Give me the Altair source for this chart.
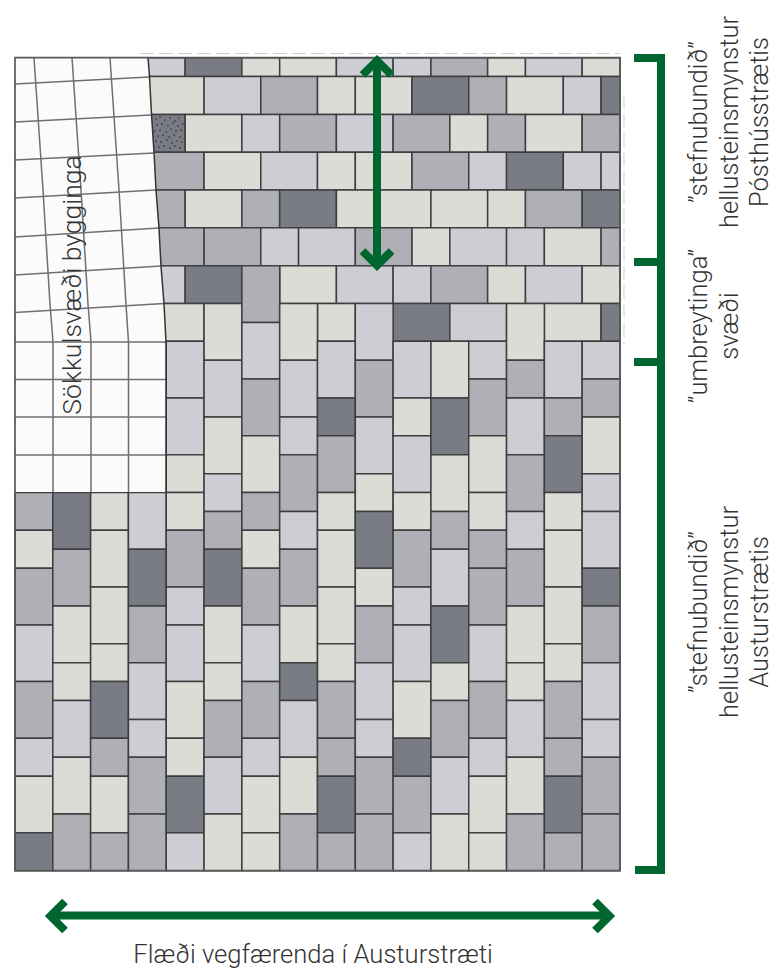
import altair as alt
import pandas as pd

# colour keys of the paving stones
B, C, M, D = "beige", "light", "mid", "dark"
stone_colors = {B: "#DCDBD6", C: "#CDCED3", M: "#AFB0B5", D: "#7A7C85"}

# horizontal courses: (y0, y1, [(x0, x1, colour), ...]) in half-stone modules
courses = [
    (0, 1, [(7, 9, C), (9, 12, D), (12, 14, B), (14, 17, B), (17, 20, C), (20, 22, C), (22, 25, M), (25, 27, B), (27, 30, C), (30, 32, B)]),
    (1, 3, [(7, 10, B), (10, 13, C), (13, 16, M), (16, 18, B), (18, 21, B), (21, 24, D), (24, 26, M), (26, 29, B), (29, 31, C), (31, 32, D)]),
    (3, 5, [(7, 9, D), (9, 12, B), (12, 14, C), (14, 17, M), (17, 20, C), (20, 23, M), (23, 25, B), (25, 27, M), (27, 30, B), (30, 32, M)]),
    (5, 7, [(7, 10, M), (10, 13, B), (13, 16, C), (16, 18, B), (18, 21, B), (21, 24, M), (24, 26, C), (26, 29, D), (29, 31, C), (31, 32, C)]),
    (7, 9, [(7, 9, M), (9, 12, B), (12, 14, M), (14, 17, D), (17, 22, B), (22, 25, B), (25, 27, B), (27, 30, M), (30, 32, D)]),
    (9, 11, [(7, 10, M), (10, 13, M), (13, 15, C), (15, 18, C), (18, 21, M), (21, 23, B), (23, 26, C), (26, 28, C), (28, 31, B), (31, 32, M)]),
    (11, 13, [(7, 9, C), (9, 12, D), (14, 17, B), (17, 20, C), (20, 22, C), (22, 25, M), (25, 27, B), (27, 30, C), (30, 32, B)]),
    (13, 15, [(7, 10, B), (16, 18, B), (20, 23, D), (23, 26, C), (28, 31, B), (31, 32, D)]),
]

# vertical columns: x start -> list of (y0, y1, colour); each column is 2 modules wide
columns = {
    0: [(23, 25, M), (25, 27, B), (27, 30, M), (30, 33, C), (33, 36, M), (36, 38, C), (38, 41, B), (41, 43, D)],
    2: [(23, 26, D), (26, 29, M), (29, 32, B), (32, 34, B), (34, 37, C), (37, 40, B), (40, 43, M)],
    4: [(23, 25, B), (25, 28, B), (28, 31, B), (31, 33, B), (33, 36, D), (36, 38, M), (38, 41, B), (41, 43, M)],
    6: [(23, 26, C), (26, 29, D), (29, 32, M), (32, 35, C), (35, 37, C), (37, 40, M), (40, 43, M)],
    8: [(15, 18, C), (18, 21, C), (21, 23, B), (23, 25, B), (25, 28, M), (28, 30, C), (30, 33, C), (33, 36, B), (36, 38, B), (38, 41, D), (41, 43, C)],
    10: [(13, 16, B), (16, 19, C), (19, 22, B), (22, 24, C), (24, 26, M), (26, 29, D), (29, 32, B), (32, 34, B), (34, 37, M), (37, 40, C), (40, 43, B)],
    12: [(11, 14, M), (14, 17, C), (17, 20, M), (20, 23, B), (23, 25, M), (25, 27, B), (27, 30, M), (30, 33, C), (33, 36, M), (36, 38, C), (38, 41, B), (41, 43, B)],
    14: [(13, 16, B), (16, 19, C), (19, 21, C), (21, 24, M), (24, 26, C), (26, 29, M), (29, 32, B), (32, 34, D), (34, 37, C), (37, 40, B), (40, 43, M)],
    16: [(15, 18, C), (18, 20, D), (20, 23, M), (23, 25, B), (25, 28, B), (28, 31, B), (31, 33, B), (33, 36, M), (36, 38, M), (38, 41, D), (41, 43, M)],
    18: [(13, 16, C), (16, 19, M), (19, 22, C), (22, 24, B), (24, 27, D), (27, 29, B), (29, 32, M), (32, 35, C), (35, 37, C), (37, 40, M), (40, 43, M)],
    20: [(15, 18, C), (18, 20, B), (20, 23, C), (23, 25, B), (25, 28, M), (28, 30, C), (30, 33, C), (33, 36, B), (36, 38, D), (38, 41, M), (41, 43, C)],
    22: [(15, 18, B), (18, 21, D), (21, 24, B), (24, 26, M), (26, 29, C), (29, 32, D), (32, 34, B), (34, 37, M), (37, 40, C), (40, 43, B)],
    24: [(15, 17, C), (17, 20, M), (20, 23, B), (23, 25, B), (25, 27, M), (27, 30, M), (30, 33, C), (33, 36, M), (36, 38, C), (38, 41, B), (41, 43, B)],
    26: [(13, 16, B), (16, 18, M), (18, 21, C), (21, 24, M), (24, 26, C), (26, 29, M), (29, 32, B), (32, 34, B), (34, 37, C), (37, 40, B), (40, 43, M)],
    28: [(15, 18, C), (18, 20, M), (20, 23, D), (23, 25, B), (25, 28, B), (28, 31, B), (31, 33, B), (33, 36, M), (36, 38, M), (38, 41, D), (41, 43, M)],
    30: [(15, 17, C), (17, 19, M), (19, 22, B), (22, 24, C), (24, 27, C), (27, 29, D), (29, 32, M), (32, 35, C), (35, 37, C), (37, 40, M), (40, 43, M)],
}

# sloping edge of the building footprint: y (px) -> x (px)
edge_y = [57.7, 76.6, 114.4, 152.2, 190, 228, 266, 304, 342, 492]
edge_x = [148, 149.5, 151.5, 154, 156, 159, 161, 164, 166, 166]

# footprint grid lines, pixel endpoints
grid_vertical = [
    [(34, 57.7), (43, 190), (50, 304), (53, 342), (53, 492)],
    [(72, 57.7), (81, 190), (88, 304), (91, 342), (91, 492)],
    [(110, 57.7), (119, 190), (126, 304), (128.5, 342), (128.5, 492)],
]
grid_horizontal = [
    [(15, 84), (149.5, 77)], [(15, 122), (151.5, 115)], [(15, 160), (154, 153)],
    [(15, 198), (156, 190)], [(15, 237), (159, 228)], [(15, 275), (161, 266)],
    [(15, 312.5), (164, 303.5)], [(15, 342), (166, 342)], [(15, 379.5), (166, 379.5)],
    [(15, 417), (166, 417)], [(15, 455), (166, 455)],
]

# faint scan traces just outside the frame (px)
trace_paths = [
    [(140, 53.5), (620, 53.5)],
    [(624, 95), (624, 345)],
]

# specks on the speckled stone (px)
speck_x = [156, 160, 165, 170, 175, 179, 157, 162, 168, 173, 178, 183, 155, 160, 166, 171, 176, 181,
           158, 163, 169, 174, 180, 156, 161, 167, 172, 177, 182, 159, 164, 170, 175, 180]
speck_y = [119, 117, 120, 118, 121, 118, 125, 124, 126, 123, 126, 124, 131, 130, 132, 129, 131, 130,
           136, 135, 137, 135, 137, 141, 142, 140, 143, 141, 142, 147, 146, 148, 146, 148]

# green annotation strokes (px)
green_paths = [
    [(377, 60), (377, 266)],
    [(362.5, 75), (377, 60.6), (391.5, 75)],
    [(362.5, 251), (377, 265.4), (391.5, 251)],
    [(50.5, 915.5), (609.5, 915.5)],
    [(65, 901.5), (50.5, 916), (65, 930.5)],
    [(595, 901.5), (609.5, 916), (595, 930.5)],
    [(634, 58), (661, 58), (661, 870), (635, 870)],
    [(634, 262), (661, 262)],
    [(634, 362), (661, 362)],
]

# text labels: (text, x px, y px, size, angle)
labels = [
    ("Flæði vegfærenda í Austurstræti", 313, 955, 25.6, 0),
    ("Sökkulsvæði bygginga", 73, 285, 26.5, 270),
    ("”stefnubundið”", 699, 122, 25.5, 270),
    ("hellusteinsmynstur", 730, 122, 25.5, 270),
    ("Pósthússtrætis", 760, 122, 25.5, 270),
    ("”umbreytinga”", 699, 326, 25.5, 270),
    ("svæði", 730, 326, 25.5, 270),
    ("”stefnubundið”", 699, 612, 25.5, 270),
    ("hellusteinsmynstur", 730, 612, 25.5, 270),
    ("Austurstrætis", 760, 612, 25.5, 270),
]

X0, Y0, U = 15.0, 57.7, 18.906


def ux(p):
    return (p - X0) / U


def uy(p):
    return (p - Y0) / U


rows = []
for y0, y1, stones in courses:
    rows += [dict(x0=a, x1=b, y0=y0, y1=y1, c=c) for a, b, c in stones]
for x, stones in columns.items():
    rows += [dict(x0=x, x1=x + 2, y0=a, y1=b, c=c) for a, b, c in stones]
stones_df = pd.DataFrame(rows)

xs = alt.Scale(domain=[ux(8), ux(774)], range=[0, 766], nice=False, zero=False)
ys = alt.Scale(domain=[uy(8), uy(970)], range=[0, 962], nice=False, zero=False)
X = lambda f, **k: alt.X(f, type="quantitative", scale=xs, axis=None, **k)
Y = lambda f, **k: alt.Y(f, type="quantitative", scale=ys, axis=None, **k)

stones_layer = alt.Chart(stones_df).mark_rect(stroke="#3E3E40", strokeWidth=1.5).encode(
    x=X("x0"), x2="x1", y=Y("y0"), y2="y1",
    color=alt.Color("c:N", legend=None,
                    scale=alt.Scale(domain=list(stone_colors), range=list(stone_colors.values()))),
)

specks = alt.Chart(pd.DataFrame({"x": [ux(v) for v in speck_x], "y": [uy(v) for v in speck_y]})).mark_point(
    filled=True, size=3, color="#26262A", opacity=0.85
).encode(x=X("x"), y=Y("y"))

foot = pd.DataFrame({"x0": [ux(15)] * len(edge_y), "x1": [ux(v) for v in edge_x], "y": [uy(v) for v in edge_y]})
footprint = alt.Chart(foot).mark_area(orient="horizontal", color="#FBFBFB", opacity=1).encode(
    x=X("x0"), x2="x1", y=Y("y"))
edge_line = alt.Chart(foot).mark_line(color="#333335", strokeWidth=1.5).encode(
    x=X("x1"), y=Y("y"), order="y")


def path_frame(paths):
    out = []
    for i, path in enumerate(paths):
        for j, (a, b) in enumerate(path):
            out.append(dict(x=ux(a), y=uy(b), g=i, o=j))
    return pd.DataFrame(out)


grid_layer = alt.Chart(path_frame(grid_vertical + grid_horizontal)).mark_line(
    color="#6F6F72", strokeWidth=1.5).encode(x=X("x"), y=Y("y"), detail="g:N", order="o:Q")

trace_layer = alt.Chart(path_frame(trace_paths)).mark_line(
    color="#CFCFCF", strokeWidth=1, strokeDash=[14, 5]).encode(x=X("x"), y=Y("y"), detail="g:N", order="o:Q")

frame = alt.Chart(pd.DataFrame({"x0": [0], "x1": [32], "y0": [0], "y1": [43]})).mark_rect(
    fill=None, stroke="#58585A", strokeWidth=1.7).encode(x=X("x0"), x2="x1", y=Y("y0"), y2="y1")

green_layer = alt.Chart(path_frame(green_paths)).mark_line(
    color="#00662F", strokeWidth=8, strokeJoin="miter", strokeCap="butt").encode(
    x=X("x"), y=Y("y"), detail="g:N", order="o:Q")

text_df = pd.DataFrame([dict(t=t, x=ux(a), y=uy(b), s=s, r=r) for t, a, b, s, r in labels])
text_layers = [
    alt.Chart(text_df[(text_df.s == s) & (text_df.r == r)]).mark_text(
        font="Roboto", fontWeight=300, fontSize=s, angle=r, align="center", baseline="middle", color="#333335"
    ).encode(x=X("x"), y=Y("y"), text="t:N")
    for s, r in sorted(set(zip(text_df.s, text_df.r)))
]

chart = alt.layer(trace_layer, stones_layer, specks, footprint, grid_layer, edge_line, frame, *text_layers, green_layer).properties(
    width=766, height=962, padding=0, autosize=alt.AutoSizeParams(type="none")
).configure_view(stroke=None).resolve_scale(color="independent")

chart.save("out.html", embed_options={"renderer": "svg", "actions": False})
